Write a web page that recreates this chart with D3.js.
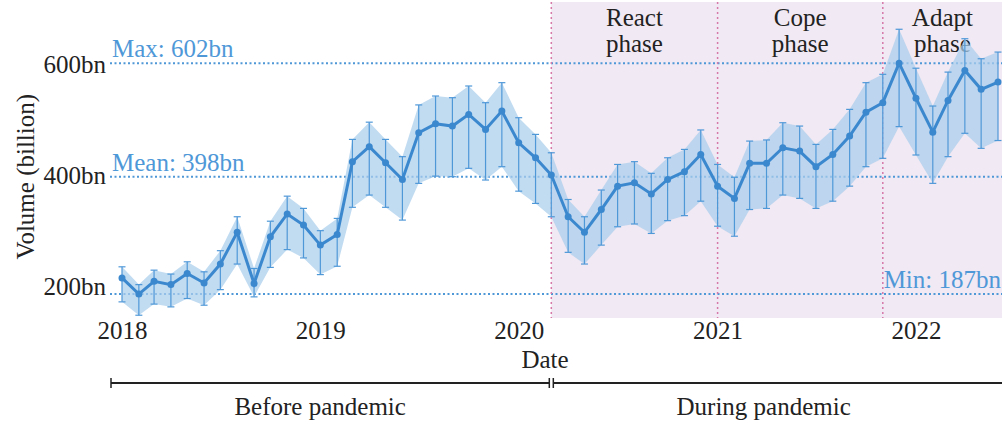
<!DOCTYPE html>
<html>
<head>
<meta charset="utf-8">
<script src="https://cdn.jsdelivr.net/npm/d3@7"></script>
<style>
  body { margin: 0; background: #fff; }
  svg text { font-family: "Liberation Serif", "DejaVu Serif", "Noto Serif", Times, serif !important; }
</style>
</head>
<body>
<div id="chart"></div>
<script>
// monthly volume, Jan 2018 .. Jun 2022 (billion)
var values = [216, 187, 210, 204, 224, 207, 241, 298, 206, 290, 331, 311,
              275, 294, 425, 452, 423, 393, 477, 493, 489, 510, 483, 516,
              459, 432, 401, 326, 298, 339, 381, 387, 367, 393, 407, 438,
              381, 359, 422, 422, 450, 444, 416, 438, 471, 514, 531, 602,
              539, 478, 535, 589, 555, 568];
var upper = [236, 204, 230, 223, 245, 227, 265, 326, 233, 318, 363, 341,
             301, 323, 465, 496, 465, 434, 527, 543, 540, 561, 531, 567,
             504, 474, 441, 357, 326, 374, 420, 425, 404, 432, 447, 482,
             420, 397, 462, 464, 495, 489, 456, 483, 519, 567, 582, 663,
             593, 525, 586, 646, 610, 622];
var lower = [173, 149, 169, 164, 179, 167, 195, 241, 182, 235, 267, 252,
             222, 237, 343, 365, 343, 320, 386, 399, 398, 413, 392, 416,
             372, 350, 326, 262, 241, 275, 308, 313, 296, 319, 328, 354,
             309, 291, 339, 341, 365, 359, 341, 354, 381, 416, 431, 488,
             437, 386, 434, 476, 449, 463];
var yTicks = [200, 400, 600];
var yearTicks = [2018, 2019, 2020, 2021, 2022];
var refNames = ["Max", "Mean", "Min"];
var refValues = [602, 398, 187];
var phaseNames = ["React", "Cope", "Adapt"];
var phaseStarts = ["2020-03-01", "2021-01-01", "2021-11-01"];
var periodNames = ["Before pandemic", "During pandemic"];

var svgWidth = 1002;
var svgHeight = 422;
var plotLeft = 110, plotRight = 1002, plotTop = 2, plotBottom = 318;
var serif = "'Liberation Serif', 'DejaVu Serif', serif";
var fs = 25;

var parse = d3.timeParse("%Y-%m-%d");
var dates = values.map((v, i) => new Date(2018, i, 1));
var data = values.map((v, i) => ({date: dates[i], value: v, hi: upper[i], lo: lower[i]}));

var svg = d3.select("#chart")
  .append("svg")
  .attr("width", svgWidth)
  .attr("height", svgHeight)
  .attr("font-family", serif);

var x = d3.scaleTime()
  .domain([dates[0], dates[dates.length - 1]])
  .range([122, 998]);

var y = d3.scaleLinear()
  .domain([144, 712])
  .range([plotBottom, plotTop]);

var blue = "#3b88cf";
var refBlue = "#4f98d8";
var pink = "#d678a8";

// pandemic shading
var pStart = x(parse(phaseStarts[0]));
svg.append("rect")
  .attr("x", pStart)
  .attr("y", plotTop)
  .attr("width", plotRight - pStart)
  .attr("height", plotBottom - plotTop)
  .attr("fill", "#f1e9f3");

// reference lines
refValues.forEach(function(v, i) {
  svg.append("line")
    .attr("x1", plotLeft).attr("x2", plotRight)
    .attr("y1", y(v)).attr("y2", y(v))
    .attr("stroke", refBlue)
    .attr("stroke-width", 2)
    .attr("stroke-dasharray", "2,2.5");
  var lbl = svg.append("text")
    .attr("y", y(v) - 6)
    .attr("fill", refBlue)
    .attr("font-size", fs)
    .text(refNames[i] + ": " + v + "bn");
  if (refNames[i] === "Min") {
    lbl.attr("x", 1001).attr("text-anchor", "end");
  } else {
    lbl.attr("x", 112);
  }
});

// phase lines + labels
var phaseX = phaseStarts.map(s => x(parse(s)));
phaseX.forEach(function(px, i) {
  svg.append("line")
    .attr("x1", px).attr("x2", px)
    .attr("y1", plotTop).attr("y2", plotBottom)
    .attr("stroke", pink)
    .attr("stroke-width", 1.5)
    .attr("stroke-dasharray", "2,3");
  var next = i < phaseX.length - 1 ? phaseX[i + 1] : plotRight;
  var cx = (px + next) / 2;
  var t = svg.append("text")
    .attr("text-anchor", "middle")
    .attr("font-size", fs)
    .attr("fill", "#222");
  t.append("tspan").attr("x", cx).attr("y", 26).text(phaseNames[i]);
  t.append("tspan").attr("x", cx).attr("y", 52).text("phase");
});

// band
var area = d3.area()
  .x(d => x(d.date))
  .y0(d => y(d.lo))
  .y1(d => y(d.hi));
svg.append("path")
  .datum(data)
  .attr("d", area)
  .attr("fill", "#a9cdec")
  .attr("fill-opacity", 0.72);

// error bars
var bars = svg.append("g")
  .attr("stroke", "#4f98d8")
  .attr("stroke-width", 1.2);
bars.selectAll("line.v")
  .data(data).enter().append("line")
  .attr("x1", d => x(d.date)).attr("x2", d => x(d.date))
  .attr("y1", d => y(d.lo)).attr("y2", d => y(d.hi));
bars.selectAll("line.t")
  .data(data).enter().append("line")
  .attr("x1", d => x(d.date) - 3.5).attr("x2", d => x(d.date) + 3.5)
  .attr("y1", d => y(d.hi)).attr("y2", d => y(d.hi));
bars.selectAll("line.b")
  .data(data).enter().append("line")
  .attr("x1", d => x(d.date) - 3.5).attr("x2", d => x(d.date) + 3.5)
  .attr("y1", d => y(d.lo)).attr("y2", d => y(d.lo));

// main line
var line = d3.line()
  .x(d => x(d.date))
  .y(d => y(d.value));
svg.append("path")
  .datum(data)
  .attr("d", line)
  .attr("fill", "none")
  .attr("stroke", blue)
  .attr("stroke-width", 3);

svg.append("g").selectAll("circle")
  .data(data).enter().append("circle")
  .attr("cx", d => x(d.date))
  .attr("cy", d => y(d.value))
  .attr("r", 3.5)
  .attr("fill", blue);

// y axis labels
var yAxis = svg.append("g")
  .attr("transform", `translate(${plotLeft}, 0)`)
  .call(d3.axisLeft(y).tickValues(yTicks).tickSize(0).tickPadding(4).tickFormat(d => d + "bn"));
yAxis.attr("font-family", serif).attr("font-size", fs);
yAxis.select(".domain").remove();
yAxis.selectAll("text").attr("fill", "#222");

// x axis labels
var xAxis = svg.append("g")
  .attr("transform", `translate(0, ${plotBottom})`)
  .call(d3.axisBottom(x).tickValues(yearTicks.map(yr => new Date(yr, 0, 1))).tickSize(0).tickPadding(3).tickFormat(d3.timeFormat("%Y")));
xAxis.attr("font-family", serif).attr("font-size", fs);
xAxis.select(".domain").remove();
xAxis.selectAll("text").attr("fill", "#222");

svg.append("text")
  .attr("x", 545).attr("y", 368)
  .attr("text-anchor", "middle")
  .attr("font-size", fs)
  .attr("fill", "#222")
  .text("Date");

svg.append("text")
  .attr("transform", `translate(34, ${y(398)}) rotate(-90)`)
  .attr("text-anchor", "middle")
  .attr("font-size", fs)
  .attr("fill", "#222")
  .text("Volume (billion)");

// period brackets
var brY = 383;
var periods = [[111, pStart - 2], [pStart + 2, plotRight]];
periods.forEach(function(p, i) {
  svg.append("line")
    .attr("x1", p[0]).attr("x2", p[1])
    .attr("y1", brY).attr("y2", brY)
    .attr("stroke", "#222").attr("stroke-width", 2);
  [p[0], p[1]].forEach(function(e) {
    if (e >= plotRight) return;
    svg.append("line")
      .attr("x1", e).attr("x2", e)
      .attr("y1", brY - 5).attr("y2", brY + 5)
      .attr("stroke", "#222").attr("stroke-width", 1.5);
  });
  svg.append("text")
    .attr("x", (p[0] + p[1]) / 2 + (i === 0 ? -10 : -14))
    .attr("y", 415)
    .attr("text-anchor", "middle")
    .attr("font-size", fs)
    .attr("fill", "#222")
    .text(periodNames[i]);
});
</script>
</body>
</html>
